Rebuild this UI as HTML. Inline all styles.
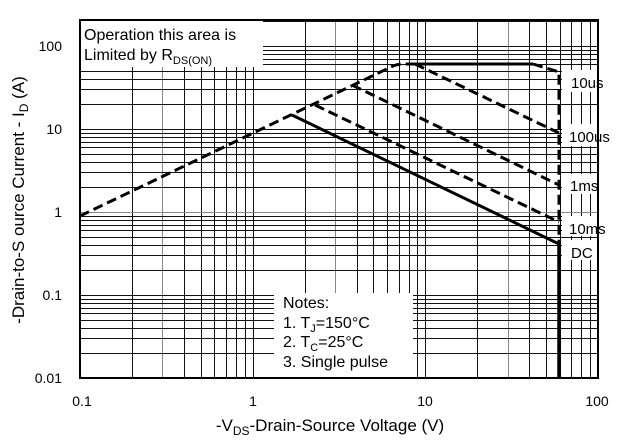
<!DOCTYPE html>
<html><head><meta charset="utf-8"><style>
html,body{margin:0;padding:0;background:#fff;}
svg{display:block;font-family:"Liberation Sans",Arial,sans-serif;}
</style></head><body>
<svg id="s" width="618" height="440" viewBox="0 0 618 440" xmlns="http://www.w3.org/2000/svg">
<g id="grid" stroke="#111" stroke-width="1"></g>
<rect x="80" y="20" width="183" height="47" fill="#fff"/>
<rect x="274" y="293" width="139" height="85" fill="#fff"/>
<rect x="562" y="70" width="35" height="22" fill="#fff"/>
<rect x="562" y="124" width="35" height="22" fill="#fff"/>
<rect x="562" y="174" width="35" height="20" fill="#fff"/>
<rect x="562" y="216" width="35" height="20" fill="#fff"/>
<rect x="562" y="240" width="35" height="20" fill="#fff"/>
<g fill="none" stroke="#000" stroke-width="3">
<path d="M80,216 L393,66 Q398,64 404,64 L415,64" stroke-dasharray="10,5"/>
<path d="M415,64 L533,64" />
<path d="M533,64 L559,72 L559,378" stroke-dasharray="10,5"/>
<path d="M415,64 L559,133" stroke-dasharray="10,5"/>
<path d="M352,85 L559,185" stroke-dasharray="10,5"/>
<path d="M315,105 L559,222" stroke-dasharray="10,5"/>
<path d="M292,115 L559,244"/>
<path d="M559,244 L559,378" stroke-width="3.5"/>
</g>
<rect x="80" y="20" width="518" height="358" fill="none" stroke="#000" stroke-width="2"/>
<g font-size="16" fill="#000">
<text x="84" y="40">Operation this area is</text>
<text x="84" y="60">Limited  by R<tspan font-size="11" dy="4">DS(ON)</tspan></text>
<text x="283" y="308">Notes:</text>
<text x="283" y="328">1. T<tspan font-size="11" dy="4">J</tspan><tspan dy="-4">=150°C</tspan></text>
<text x="283" y="347">2. T<tspan font-size="11" dy="4">C</tspan><tspan dy="-4">=25°C</tspan></text>
<text x="283" y="367">3. Single pulse</text>
</g>
<g font-size="15" fill="#000">
<text x="571" y="88">10us</text>
<text x="569" y="142">100us</text>
<text x="570" y="191">1ms</text>
<text x="569" y="234">10ms</text>
<text x="571" y="258">DC</text>
</g>
<g font-size="14" fill="#000" text-anchor="end">
<text x="62" y="51">100</text>
<text x="62" y="134">10</text>
<text x="62" y="217">1</text>
<text x="62" y="300">0.1</text>
<text x="62" y="383">0.01</text>
</g>
<g font-size="14" fill="#000" text-anchor="middle">
<text x="82" y="406">0.1</text>
<text x="253" y="406">1</text>
<text x="425" y="406">10</text>
<text x="597" y="406">100</text>
</g>
<text x="330" y="431" font-size="17" text-anchor="middle">-V<tspan font-size="12" dy="4">DS</tspan><tspan dy="-4">-Drain-Source Voltage (V)</tspan></text>
<text transform="translate(24,200) rotate(-90)" font-size="17" text-anchor="middle">-Drain-to-S ource Current - I<tspan font-size="12" dy="4">D</tspan><tspan dy="-4"> (A)</tspan></text>
</svg>
<script>
(function(){
var g=document.getElementById('grid'),ns='http://www.w3.org/2000/svg';
function X(v){return 80+(Math.log10(v)+1)*172.67;}
function Y(v){return 378-(Math.log10(v)+2)*83;}
function ln(x1,y1,x2,y2,c){var l=document.createElementNS(ns,'line');l.setAttribute('x1',x1);l.setAttribute('y1',y1);l.setAttribute('x2',x2);l.setAttribute('y2',y2);if(c)l.setAttribute('stroke',c);g.appendChild(l);}
for(var d=-1;d<=1;d++)for(var m=1;m<=9;m++){var x=Math.round(X(m*Math.pow(10,d)))+0.5;if(x>80&&x<598)ln(x,20,x,378,m==3?'#888':null);}
for(var d=-2;d<=2;d++)for(var m=1;m<=9;m++){var v=m*Math.pow(10,d);var y=Math.round(Y(v))+0.5;if(y>20&&y<378)ln(80,y,598,y,(m==1&&d==0)?'#888':null);}
})();
</script>
</body></html>
